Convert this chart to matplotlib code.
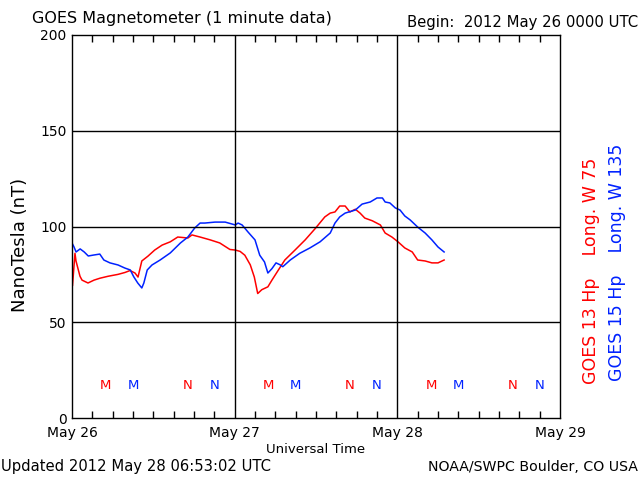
import numpy as np
import matplotlib
matplotlib.use('Agg')
import matplotlib.pyplot as plt

# hours since 2012 May 26 00:00 UTC, field in nT
g13_hours = [0, 0.07, 0.44, 0.59, 1.18, 1.48, 2.36, 3.25, 4.13, 5.31, 6.79, 7.82, 8.56, 9.3,
             9.74, 10.3, 11.2, 12.2, 13.3, 14.5, 15.6, 17.1, 17.7, 18.9, 20.4, 21.8, 23.3,
             24.1, 24.8, 25.5, 26.3, 26.9, 27.4, 28.0, 28.9, 29.5, 30.4, 31.4, 32.9, 34.4,
             35.9, 37.3, 38.1, 38.8, 39.5, 40.3, 41.0, 41.8, 42.5, 43.2, 44.3, 45.5, 46.2,
             47.2, 48.1, 49.1, 50.2, 51.0, 52.1, 53.1, 54.0, 54.9]
g13_vals = [77, 69, 86, 82, 74, 72, 70.5, 72, 73, 74, 75, 76, 77, 75.7,
            73.6, 82, 84.5, 87.7, 90.3, 92, 94.5, 94, 95.6, 94.5, 93, 91.4, 88,
            87.7, 87, 85, 80, 73.6, 65, 67, 68.5, 72, 77, 82.5, 87.7, 93,
            99, 105, 107, 107.6, 110.7, 110.7, 107.6, 109, 107, 104.4, 103, 100.8, 96.6,
            94.5, 92, 88.8, 86.7, 82.5, 82, 81, 81, 82.5]

g15_hours = [0, 0.3, 0.6, 1.2, 1.8, 2.4, 3.2, 4.1, 4.7, 5.6, 6.8, 7.8, 8.6, 9.1, 9.7, 10.3,
             10.6, 11.1, 11.8, 13.0, 14.5, 16.0, 17.1, 18.1, 18.9, 19.6, 21.1, 22.6, 23.6,
             24.1, 24.5, 25.1, 26.0, 27.0, 27.7, 28.4, 28.9, 29.5, 30.1, 30.7, 31.1, 32.2,
             33.6, 35.1, 36.6, 38.1, 38.8, 39.5, 40.3, 41.8, 42.8, 44.0, 45.0, 45.8, 46.2,
             46.9, 47.7, 48.4, 49.1, 49.9, 51.0, 52.1, 53.1, 54.0, 54.9]
g15_vals = [91.4, 89.3, 86.7, 88.3, 86.7, 84.6, 85.1, 85.6, 82.5, 81, 79.9, 78.3, 77.3, 73.8,
            70.5, 67.9, 70.5, 77.3, 79.9, 82.5, 86.2, 91.4, 94.5, 99.2, 101.8, 101.8, 102.3,
            102.3, 101.3, 100.8, 101.8, 100.8, 97, 93, 85, 81.5, 75.7, 78, 81, 80, 79,
            82.5, 86, 88.8, 92, 96.6, 101.8, 105, 107, 108.6, 111.7, 112.8, 114.9, 114.9,
            112.8, 112.3, 109.7, 108.6, 105.5, 103.4, 99.7, 96.6, 93, 89.3, 86.7]

marker_hours_13 = [5, 17, 29, 41, 53, 65]
marker_text_13 = ['M', 'N', 'M', 'N', 'M', 'N']
marker_hours_15 = [9, 21, 33, 45, 57, 69]
marker_text_15 = ['M', 'N', 'M', 'N', 'M', 'N']

day_labels = ['May 26', 'May 27', 'May 28', 'May 29']

red = '#ff0000'
blue = '#0022ff'

fig = plt.figure(figsize=(6.4, 4.8), dpi=100)
ax = fig.add_axes([72/640, 62/480, 488/640, 383/480])

ax.plot(g13_hours, g13_vals, color=red, lw=1.1)
ax.plot(g15_hours, g15_vals, color=blue, lw=1.1)

for h, t in zip(marker_hours_13, marker_text_13):
    ax.text(h, 17, t, color=red, ha='center', va='center', fontsize=9.5)
for h, t in zip(marker_hours_15, marker_text_15):
    ax.text(h, 17, t, color=blue, ha='center', va='center', fontsize=9.5)

ax.set_xlim(0, 72)
ax.set_ylim(0, 200)
for v in [50, 100, 150]:
    ax.axhline(v, color='black', lw=1)
for d in [24, 48]:
    ax.axvline(d, color='black', lw=1)

ax.set_xticks([0, 24, 48, 72])
ax.set_xticklabels(day_labels, fontsize=10)
ax.set_xticks(np.arange(3, 72, 3), minor=True)
ax.tick_params(axis='x', which='minor', direction='in', length=5, top=True, width=1)
ax.tick_params(axis='x', which='major', length=0, pad=6)
ax.set_yticks([0, 50, 100, 150, 200])
ax.set_yticklabels(['0', '50', '100', '150', '200'], fontsize=10)
ax.tick_params(axis='y', length=0, pad=4)
for s in ax.spines.values():
    s.set_linewidth(1)

ax.set_xlabel('Universal Time', fontsize=9.5, labelpad=2)

fig.text(20/640, 1 - 245/480, 'NanoTesla (nT)', fontsize=13, rotation=90, va='center', ha='center')
fig.text(32/640, 1 - 18/480, 'GOES Magnetometer (1 minute data)', fontsize=11.5, va='center', ha='left')
fig.text(638/640, 1 - 22/480, 'Begin:  2012 May 26 0000 UTC', fontsize=10.7, va='center', ha='right')
fig.text(1/640, 1 - 467/480, 'Updated 2012 May 28 06:53:02 UTC', fontsize=10.6, va='center', ha='left')
fig.text(638/640, 1 - 467/480, 'NOAA/SWPC Boulder, CO USA', fontsize=10.2, va='center', ha='right')

fig.text(591/640, 1 - 271/480, 'GOES 13 Hp    Long. W 75', color=red, rotation=90,
         fontsize=12.5, va='center', ha='center')
fig.text(617/640, 1 - 262/480, 'GOES 15 Hp    Long. W 135', color=blue, rotation=90,
         fontsize=12.5, va='center', ha='center')

fig.savefig('out.png', dpi=100)
